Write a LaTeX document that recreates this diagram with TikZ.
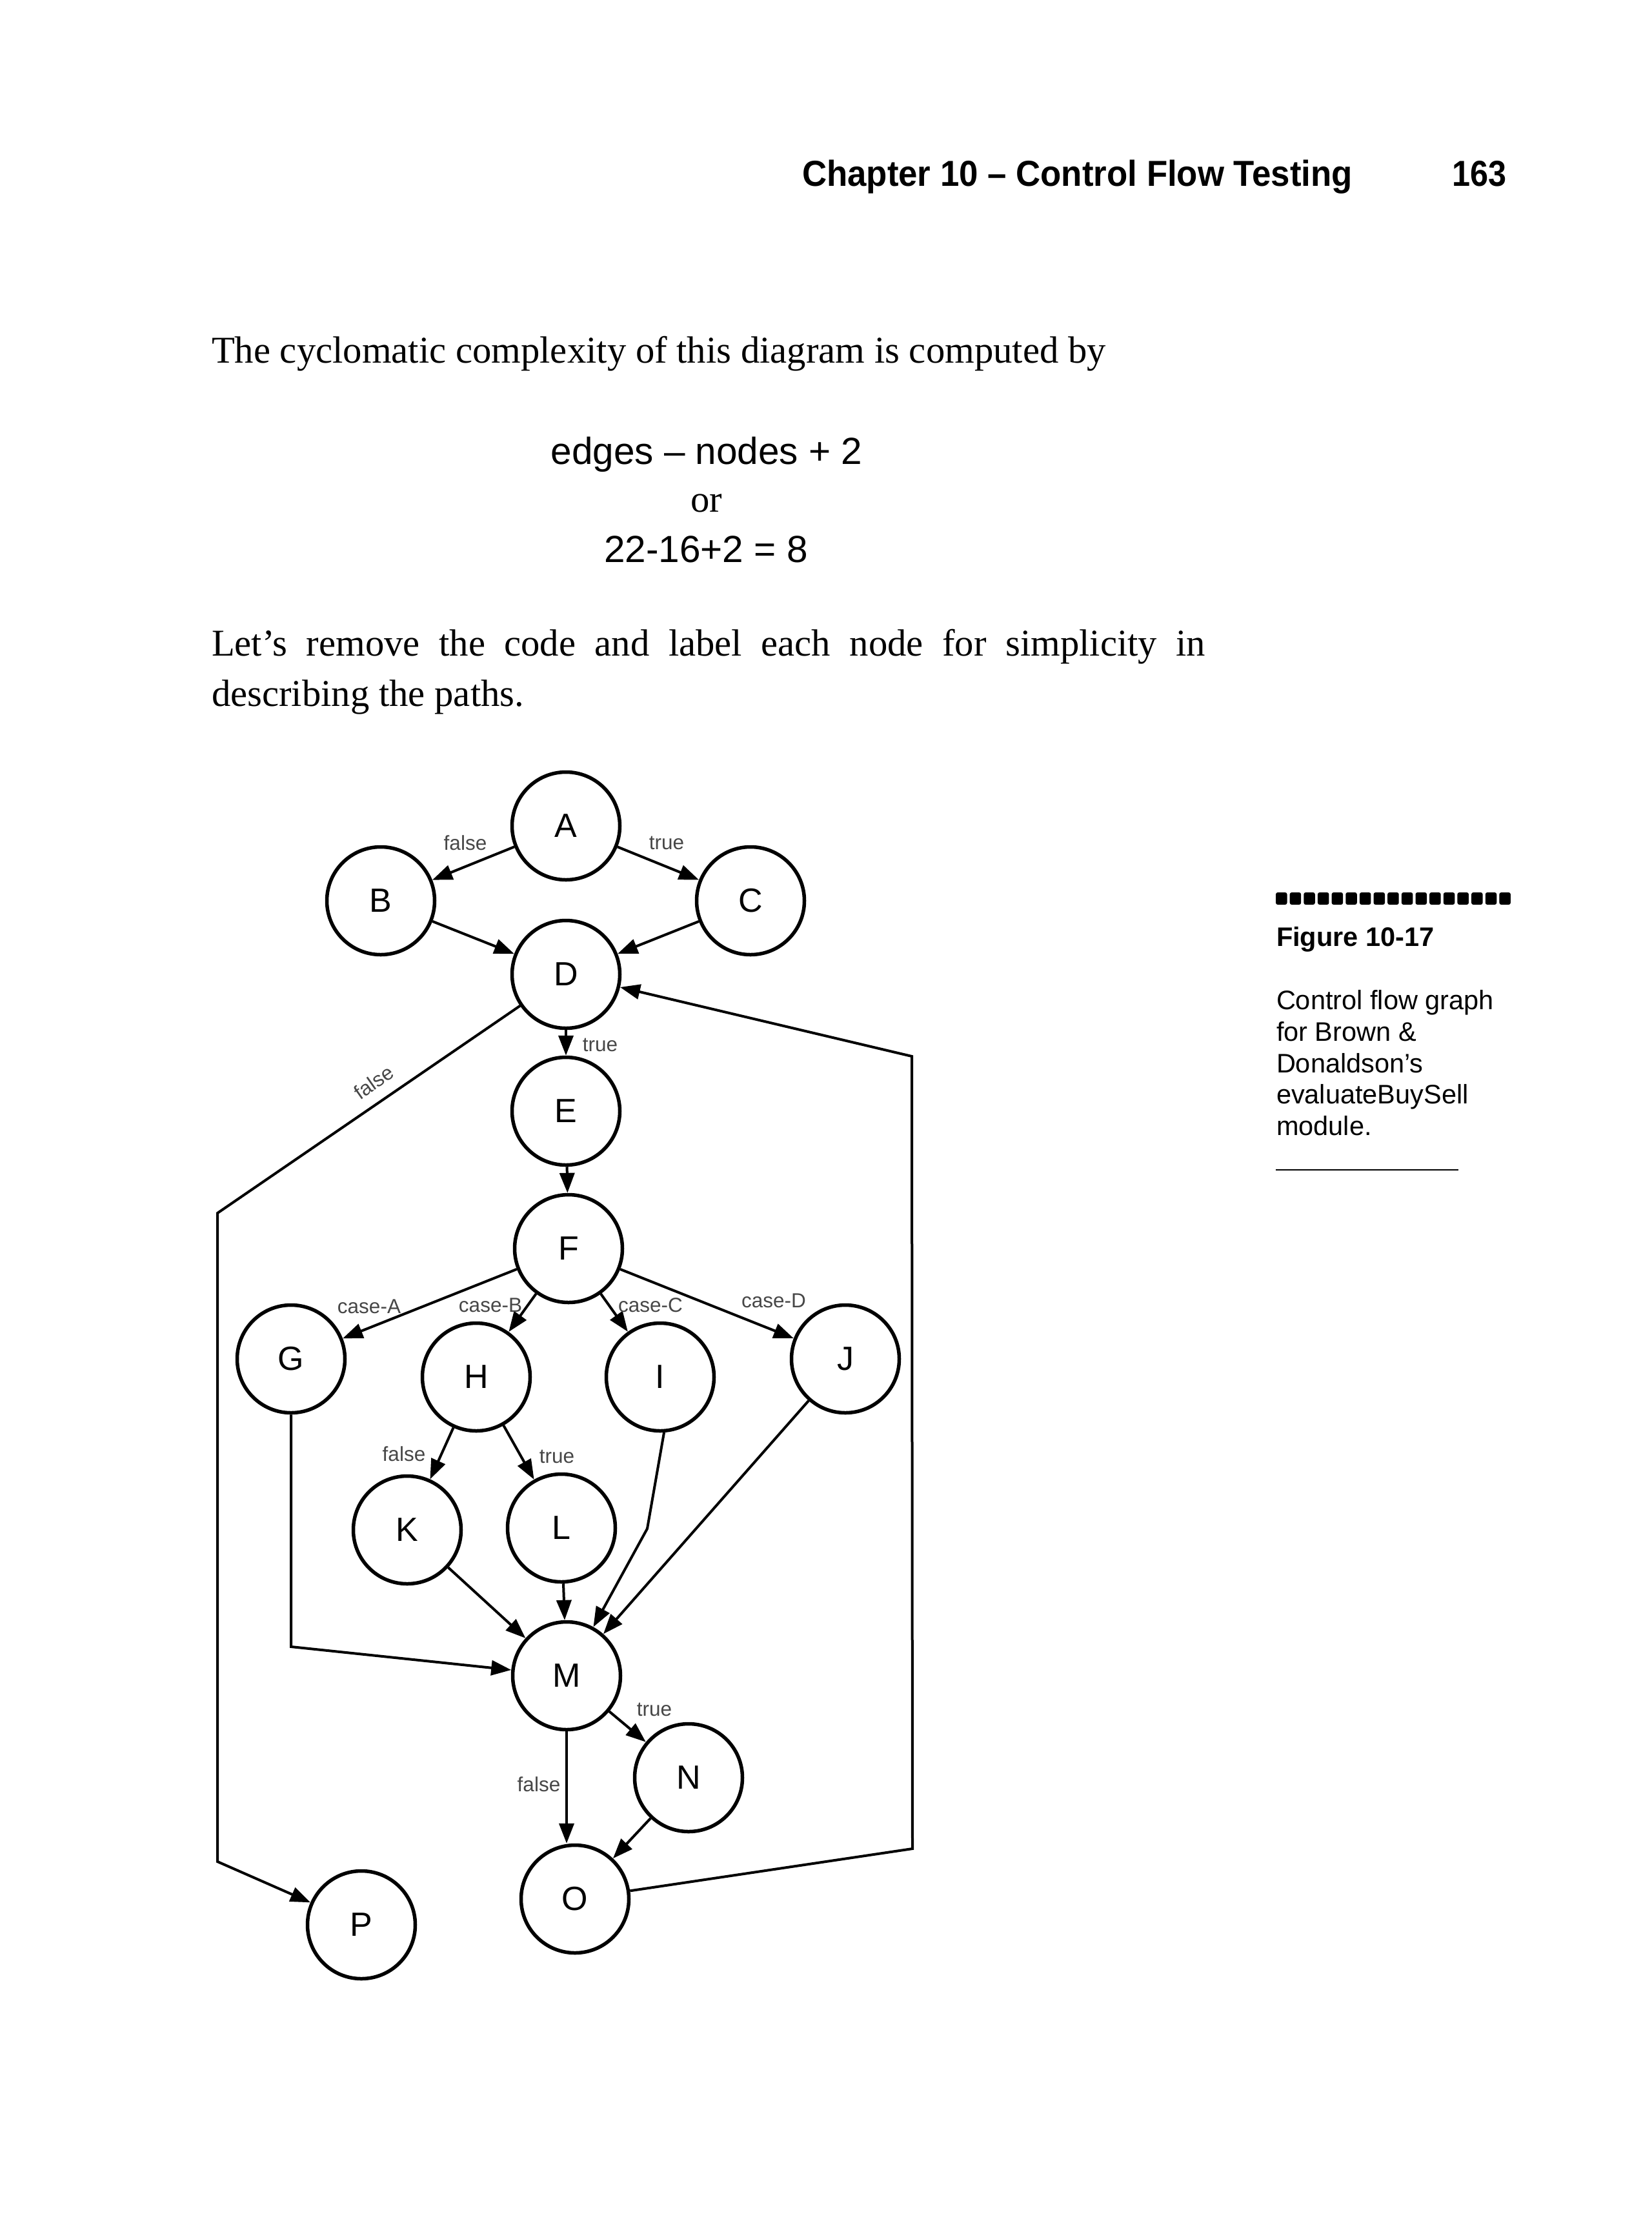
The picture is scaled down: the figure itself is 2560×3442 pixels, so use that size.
\documentclass[tikz,border=0pt]{standalone}
\usepackage{fontspec}
\setmainfont{Liberation Serif}
\newfontfamily\hv{Liberation Sans}
\usetikzlibrary{arrows.meta}
\begin{document}
\begin{tikzpicture}[x=0.2pt,y=-0.2pt,
  circ/.style={circle,draw,line width=1.1pt,minimum size=33.4pt,inner sep=0pt,
    font=\hv\fontsize{10.4pt}{12pt}\selectfont},
  conn/.style={line width=0.8pt,line join=miter,-{Triangle[length=6.2pt,width=4.6pt]}},
  lbl/.style={inner sep=0pt,text=black!72,font=\hv\fontsize{6.3pt}{7pt}\selectfont},
  bodytxt/.style={inner sep=0pt,anchor=base west,font=\fontsize{11.74pt}{14pt}\selectfont},
  formula/.style={inner sep=0pt,anchor=base,font=\hv\fontsize{11.7pt}{14pt}\selectfont},
  captxt/.style={inner sep=0pt,anchor=base west,font=\hv\fontsize{8.3pt}{10pt}\selectfont},
  hdrtxt/.style={inner sep=0pt,font=\hv\bfseries\fontsize{11.2pt}{13pt}\selectfont}
]
\useasboundingbox (0,0) rectangle (2560,3442);
\fill[white] (0,0) rectangle (2560,3442);

% running header
\node[hdrtxt,anchor=base west] (hdr) at (1242,288) {\scalebox{0.943}[1]{Chapter 10 – Control Flow Testing}};
\node[hdrtxt,anchor=base east] (pg) at (2336,288) {\scalebox{0.9}[1]{163}};

% body text
\node[bodytxt] (t1) at (327,562) {The cyclomatic complexity of this diagram is computed by};
\node[formula] (f1) at (1095,719) {edges – nodes + 2};
\node[inner sep=0pt,anchor=base,font=\fontsize{11.74pt}{14pt}\selectfont] (f2) at (1095,793) {or};
\node[formula] (f3) at (1094,871) {22-16+2 = 8};
\node[bodytxt] (t2) at (327,1016) {\makebox[308pt][s]{Let’s remove the code and label each node for simplicity in}};
\node[bodytxt] (t3) at (327,1094) {describing the paths.};

% caption
\foreach \i in {0,...,16} \fill[rounded corners=0.6pt] (1977+\i*21.65,1383) rectangle ++(17.5,19);
\node[captxt,font=\hv\bfseries\fontsize{8.3pt}{10pt}\selectfont] (cap0) at (1977,1466) {Figure 10-17};
\node[captxt] (cap1) at (1977,1564) {Control flow graph};
\node[captxt] (cap2) at (1977,1613) {for Brown \&};
\node[captxt] (cap3) at (1977,1662) {Donaldson’s};
\node[captxt] (cap4) at (1977,1710) {evaluateBuySell};
\node[captxt] (cap5) at (1977,1759) {module.};
\draw[line width=0.4pt] (1977,1813) -- (2260,1813);

% graph nodes
\node[circ] (A) at (877,1280) {A};
\node[circ] (B) at (590,1396) {B};
\node[circ] (C) at (1163,1396) {C};
\node[circ] (D) at (877,1510) {D};
\node[circ] (E) at (877,1722) {E};
\node[circ] (F) at (881,1935) {F};
\node[circ] (G) at (451,2106) {G};
\node[circ] (H) at (738,2134) {H};
\node[circ] (I) at (1023,2134) {I};
\node[circ] (J) at (1310,2106) {J};
\node[circ] (K) at (631,2371) {K};
\node[circ] (L) at (870,2368) {L};
\node[circ] (M) at (878,2597) {M};
\node[circ] (N) at (1067,2755) {N};
\node[circ] (O) at (891,2943) {O};
\node[circ] (P) at (560,2983) {P};

% bend points
\coordinate (fl1) at (337,1880);
\coordinate (fl2) at (337,2885);
\coordinate (gm) at (453,2552);
\coordinate (im) at (1003,2369);
\coordinate (ob1) at (1414,2865);
\coordinate (ob2) at (1413,1637);

% connectors
\draw[conn] (A) -- (B);
\draw[conn] (A) -- (C);
\draw[conn] (B) -- (D);
\draw[conn] (C) -- (D);
\draw[conn] (D) -- (E);
\draw[conn] (D) -- (fl1) -- (fl2) -- (P);
\draw[conn] (E) -- (F);
\draw[conn] (F) -- (G);
\draw[conn] (F) -- (H);
\draw[conn] (F) -- (I);
\draw[conn] (F) -- (J);
\draw[conn] (H) -- (K);
\draw[conn] (H) -- (L);
\draw[conn] (G.south) -- (G.south |- gm) -- (M);
\draw[conn] (K) -- (M);
\draw[conn] (L) -- (M);
\draw[conn] (I.-86) -- (im) -- (M);
\draw[conn] (J) -- (M);
\draw[conn] (M) -- (N);
\draw[conn] (M.south) -- (M.south |- O.north);
\draw[conn] (N) -- (O);
\draw[conn] (O) -- (ob1) -- (ob2) -- (D);

% edge labels
\node[lbl] (lab) at (721,1306) {false};
\node[lbl] (lac) at (1033,1306) {true};
\node[lbl] (lde) at (930,1619) {true};
\node[lbl,rotate=35] (ldp) at (579,1677) {false};
\node[lbl] (lfg) at (572,2025) {case-A};
\node[lbl] (lfh) at (760,2023) {case-B};
\node[lbl] (lfi) at (1008,2023) {case-C};
\node[lbl] (lfj) at (1199,2016) {case-D};
\node[lbl] (lhk) at (626,2253) {false};
\node[lbl] (lhl) at (863,2257) {true};
\node[lbl] (lmn) at (1014,2649) {true};
\node[lbl] (lmo) at (835,2765) {false};
\end{tikzpicture}
\end{document}
